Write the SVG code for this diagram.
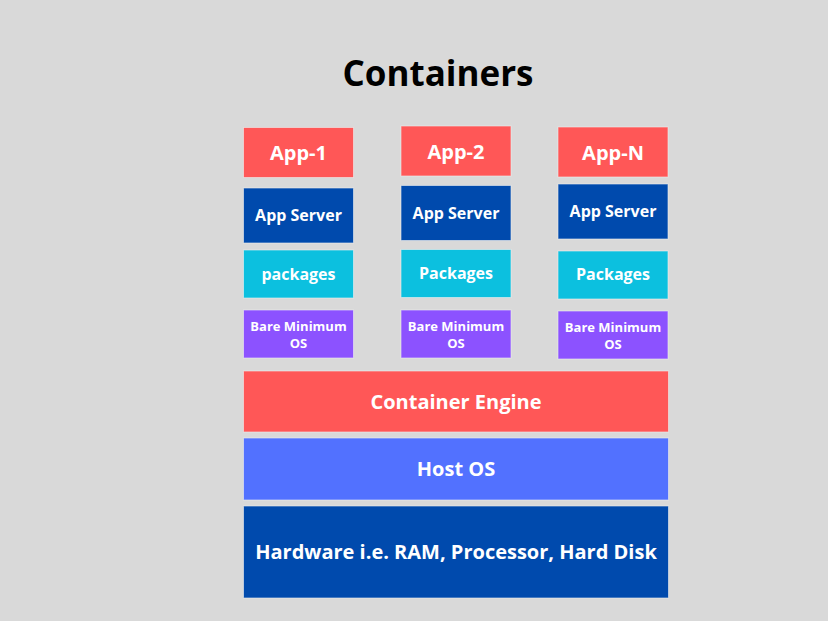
<svg xmlns="http://www.w3.org/2000/svg" width="828" height="621" viewBox="0 0 828 621">
<style>
text{font-family:"Open Sans","Liberation Sans",sans-serif;font-weight:700;fill:#ffffff;text-anchor:middle}
.b{stroke:#f0f0f0;stroke-opacity:0.6;stroke-width:1}
.red{fill:#FF5757}.dark{fill:#004AAD}.cyan{fill:#0CC0DF}.purple{fill:#8C52FF}.host{fill:#5271FF}
.app{font-size:20px}.srv{font-size:16px}.pkg{font-size:16px}.bare{font-size:13px}.big{font-size:20px}
</style>
<rect width="828" height="621" fill="#D9D9D9"/>
<text x="438" y="86" style="font-size:35px;fill:#000000">Containers</text>
<g id="app1"><rect class="b red" x="243.5" y="127.5" width="110" height="50"/><text class="app" x="298.5" y="160">App-1</text></g>
<g id="app2"><rect class="b red" x="401" y="126" width="110" height="50"/><text class="app" x="456" y="159">App-2</text></g>
<g id="appN"><rect class="b red" x="558" y="127" width="110" height="50"/><text class="app" x="613" y="160">App-N</text></g>
<g id="server1"><rect class="b dark" x="243.5" y="188" width="110" height="55"/><text class="srv" x="298.5" y="221">App Server</text></g>
<g id="server2"><rect class="b dark" x="401" y="185.5" width="110" height="55"/><text class="srv" x="456" y="219">App Server</text></g>
<g id="serverN"><rect class="b dark" x="558" y="184" width="110" height="55"/><text class="srv" x="613" y="217">App Server</text></g>
<g id="pkg1"><rect class="b cyan" x="243.5" y="250" width="110" height="48"/><text class="pkg" x="298.5" y="280">packages</text></g>
<g id="pkg2"><rect class="b cyan" x="401" y="249.5" width="110" height="48"/><text class="pkg" x="456" y="279">Packages</text></g>
<g id="pkgN"><rect class="b cyan" x="558" y="251" width="110" height="48"/><text class="pkg" x="613" y="280">Packages</text></g>
<g id="bare1"><rect class="b purple" x="243.5" y="310" width="110" height="48"/><text class="bare" x="298.5" y="330.5">Bare Minimum</text><text class="bare" x="298.5" y="347.5">OS</text></g>
<g id="bare2"><rect class="b purple" x="401" y="310" width="110" height="48"/><text class="bare" x="456" y="330.5">Bare Minimum</text><text class="bare" x="456" y="347.5">OS</text></g>
<g id="bareN"><rect class="b purple" x="558" y="311" width="110" height="48"/><text class="bare" x="613" y="331.5">Bare Minimum</text><text class="bare" x="613" y="348.5">OS</text></g>
<g id="engine"><rect class="b red" x="243.5" y="371" width="425" height="61"/><text class="big" x="456" y="409">Container Engine</text></g>
<g id="hostos"><rect class="b host" x="243.5" y="438" width="425" height="62"/><text class="big" x="456" y="476">Host OS</text></g>
<g id="hardware"><rect class="b dark" x="243.5" y="506" width="425" height="92"/><text class="big" x="456" y="559">Hardware i.e. RAM, Processor, Hard Disk</text></g>
<g id="connectors"/>
</svg>
